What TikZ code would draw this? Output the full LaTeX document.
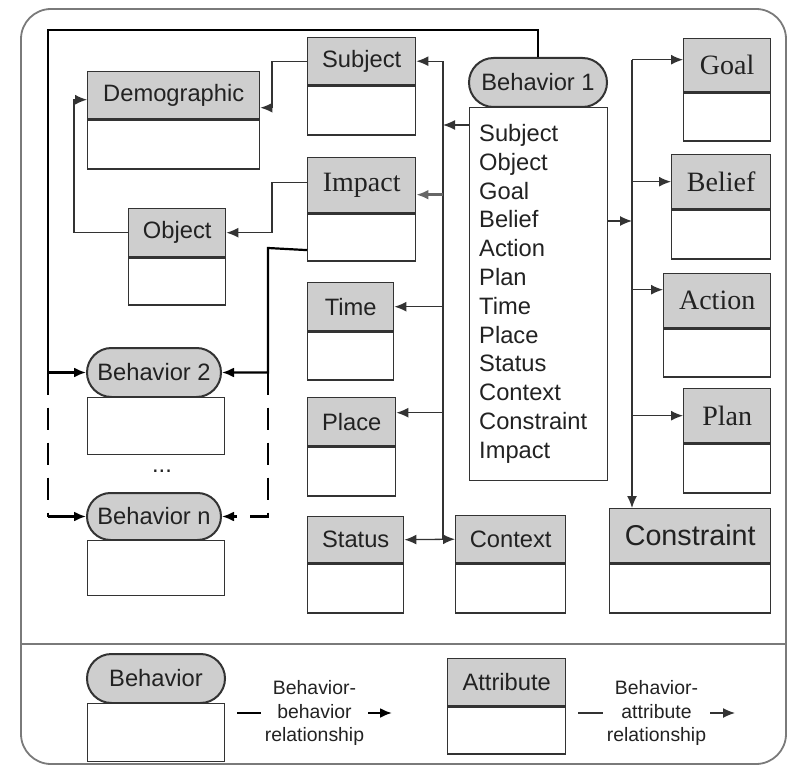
\documentclass[tikz,border=0pt]{standalone}
\usepackage{fontspec}
\setmainfont{Liberation Sans}
\newfontfamily\serifface{Liberation Serif}
\usetikzlibrary{arrows.meta,shapes.misc,calc}
\definecolor{hdrc}{HTML}{CECECE}
\definecolor{linec}{HTML}{333333}
\definecolor{txtc}{HTML}{222222}
\definecolor{framec}{HTML}{7A7A7A}
\newcommand{\fsans}{\fontsize{23.7pt}{28.8pt}\selectfont}
\newcommand{\fserif}{\serifface\fontsize{28pt}{32pt}\selectfont}
\newcommand{\fbig}{\fontsize{28.7pt}{32pt}\selectfont}
\newcommand{\flegend}{\fontsize{19.4pt}{23.5pt}\selectfont}
% attribute box: name, x, y (top left), width, header height, body height, font, label
\newcommand{\attrbox}[8]{%
  \node[hdr, font=#7, anchor=north west, minimum width=#4pt, minimum height=#5pt] (#1) at (#2,#3) {#8};
  \node[bdy, anchor=north west, minimum width=#4pt, minimum height=#6pt] (#1b) at (#1.south west) {};
}
\begin{document}
\begin{tikzpicture}[x=1pt,y=-1pt,
  hdr/.style={rectangle, draw=linec, fill=hdrc, line width=1.4pt, inner sep=0pt, text=txtc},
  bdy/.style={rectangle, draw=linec, fill=white, line width=1.4pt, inner sep=0pt},
  beh/.style={rounded rectangle, draw=linec, fill=hdrc, line width=2pt, inner sep=0pt, text=txtc, font=\fsans},
  tip/.style={-{Latex[length=12pt,width=10pt]}},
  arr/.style={draw=linec, line width=1.3pt, tip},
  attrline/.style={draw=linec, line width=1.3pt},
  bbline/.style={draw=black, line width=2.2pt},
  bbconn/.style={bbline, tip},
  longdash/.style={dash pattern=on 22pt off 13pt},
  legtext/.style={fill=white, font=\flegend, align=center, text=txtc, inner sep=4pt}
]
\useasboundingbox (0,0) rectangle (788,765);

% outer frame and legend divider
\draw[framec, line width=1.8pt, rounded corners=30pt] (21,9) rectangle (786,764);
\draw[framec, line width=1.8pt] (21,644) -- (786,644);

% Behavior 1 with its attribute list
\node[beh, minimum width=138pt, minimum height=49pt] (b1) at (538,82.5) {Behavior 1};
\node[bdy, anchor=north west, minimum width=138pt, minimum height=373pt] (lst) at (469,107) {};
\foreach \w [count=\i from 0] in {Subject,Object,Goal,Belief,Action,Plan,Time,Place,Status,Context,Constraint,Impact}
  \node[font=\fsans, text=txtc, anchor=base west, inner sep=0pt] (item\i) at (479,141.5+\i*28.8) {\w};

% attribute boxes
\attrbox{subj}{307}{37}{108}{47}{49}{\fsans}{Subject}
\attrbox{demo}{87}{71}{172}{47}{49}{\fsans}{Demographic}
\attrbox{imp}{307}{157}{108}{55}{47}{\fserif}{Impact}
\attrbox{obj}{128}{208}{97}{48}{47}{\fsans}{Object}
\attrbox{time}{307}{282}{86}{48}{48}{\fsans}{Time}
\attrbox{place}{307}{397}{88}{48}{49}{\fsans}{Place}
\attrbox{stat}{307}{516}{96}{46}{49}{\fsans}{Status}
\attrbox{ctx}{455}{515}{110}{47}{49}{\fsans}{Context}
\attrbox{cons}{609}{508}{161}{54}{49}{\fbig}{Constraint}
\attrbox{goal}{683}{38}{87}{53}{48}{\fserif}{Goal}
\attrbox{belief}{671}{154}{99}{54}{49}{\fserif}{Belief}
\attrbox{action}{663}{273}{107}{54}{48}{\fserif}{Action}
\attrbox{plan}{683}{388}{87}{54}{49}{\fserif}{Plan}

% further behaviors
\node[beh, minimum width=134pt, minimum height=49pt] (b2) at (154,372.5) {Behavior 2};
\node[bdy, anchor=north west, minimum width=137pt, minimum height=57pt] (b2b) at (87,397) {};
\node[font=\fsans, text=txtc] (dots) at (162,471) {...};
\node[beh, minimum width=134pt, minimum height=47pt] (bn) at (154,516.5) {Behavior n};
\node[bdy, anchor=north west, minimum width=137pt, minimum height=55pt] (bnb) at (87,540) {};

% behavior-behavior relationships
\coordinate (topl) at (48,30);
\draw[bbconn] (b1.north) |- (topl) |- (b2.west);
\coordinate (lb2) at (topl |- b2.west);
\coordinate (lbn) at (topl |- bn.west);
\draw[bbline, longdash] (lb2) -- (lbn);
\draw[bbconn] (lbn) -- (bn.west);

\coordinate (rj) at (268,248);
\draw[bbconn] ([yshift=-12.5pt]impb.west) -- (rj) |- (b2.east);
\coordinate (rb2) at (rj |- b2.east);
\draw[bbconn, longdash] (rb2) |- (bn.east);

% attribute-attribute links
\draw[arr] (subj.west) -- ++(-35,0) |- ([yshift=-12.5pt]demo.east);
\draw[arr] (obj.west) -- ++(-54,0) |- ([yshift=-4.5pt]demo.west);
\draw[arr] ([yshift=3pt]imp.west) -- ++(-35,0) |- (obj.east);

% left attribute bus
\coordinate (lbus) at (443,125);
\draw[arr] ([yshift=-18pt]lst.north west) -- (lbus);
\draw[attrline] (lbus |- subj.east) -- (lbus |- stat.east);
\draw[arr] (lbus |- subj.east) -- (subj.east);
\coordinate (impin) at ([yshift=-9.5pt]imp.east);
\draw[arr, draw=gray!80!black, line width=2.6pt] (lbus |- impin) -- (impin);
\draw[arr] (lbus |- time.east) -- (time.east);
\coordinate (plin) at ([yshift=9pt]place.east);
\draw[arr] (lbus |- plin) -- (plin);
\draw[attrline, {Latex[length=12pt,width=10pt]}-{Latex[length=12pt,width=10pt]}] (stat.east) -- (ctx.west);

% right attribute bus
\coordinate (rbus) at (632,221);
\draw[arr] ([yshift=-114pt]lst.north east) -- (rbus);
\coordinate (goalin) at ([yshift=5.5pt]goal.west);
\coordinate (actin) at ([yshift=11pt]action.west);
\draw[arr] (rbus |- goalin) -- (rbus |- cons.north);
\draw[arr] (rbus |- goalin) -- (goalin);
\draw[arr] (rbus |- belief.west) -- (belief.west);
\draw[arr] (rbus |- actin) -- (actin);
\draw[arr] (rbus |- plan.west) -- (plan.west);

% legend
\node[beh, minimum width=138pt, minimum height=49pt] (legb) at (156,678.5) {Behavior};
\node[bdy, anchor=north west, minimum width=137pt, minimum height=58pt] (legbb) at (87,703) {};
\attrbox{lega}{447}{658}{118}{47}{47}{\fsans}{Attribute}
\coordinate (lgA) at (237,713);
\coordinate (lgB) at (392,713);
\coordinate (lgC) at (578,713);
\coordinate (lgD) at (735,713);
\draw[bbconn] (lgA) -- node[legtext] (lgt1) {Behavior-\\behavior\\relationship} (lgB);
\draw[arr] (lgC) -- node[legtext] (lgt2) {Behavior-\\attribute\\relationship} (lgD);
\end{tikzpicture}
\end{document}
